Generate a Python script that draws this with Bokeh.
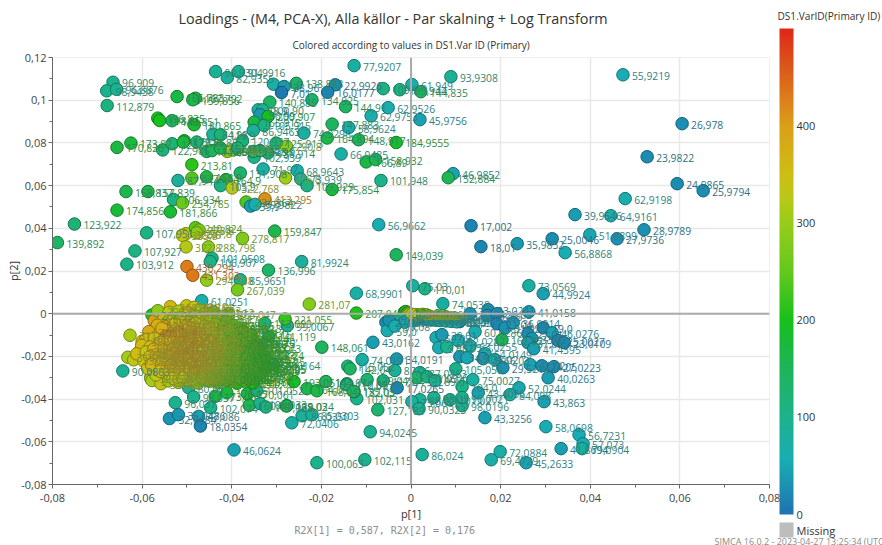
from bokeh.plotting import figure
from bokeh.models import (ColumnDataSource, LinearColorMapper, ColorBar, FixedTicker, Span, Title)
from bokeh.transform import transform
from bokeh.core.properties import value
from bokeh.embed import file_html
from bokeh.resources import INLINE

top_left = [
 ("90,9304",-.0436,.1134),("91,9916",-.0385,.1134),("82,9355",-.0410,.1106),("96,909",-.0665,.1084),
 ("98,9438",-.0679,.1044),("96,8876",-.0657,.1051),("112,879",-.0678,.0975),("166,783",-.0522,.1017),
 ("167,792",-.0481,.1009),("159,856",-.0487,.1002),("196,835",-.0565,.0916),("198,85",-.0561,.0905),
 ("143,851",-.0533,.0904),("180,865",-.0484,.0885),("170,826",-.0656,.0779),("173,82",-.0625,.0799),
 ("122,905",-.0554,.0767),("125,9",-.0533,.0796),("179,8",-.0506,.0810),("177,85",-.0508,.0804),
 ("114,85",-.0478,.0804),("213,81",-.0489,.0698),("87,944",-.0520,.0624),("237,944",-.0489,.0635),
 ("158,9",-.0456,.0641),("164,9",-.0413,.0628),("105,9",-.0425,.0600),("131,908",-.0381,.0659),
 ("322,768",-.0399,.0589),("158,837",-.0636,.0572),("157,839",-.0587,.0572),("106,934",-.0530,.0535),
 ("254,785",-.0510,.0519),("174,856",-.0656,.0485),("181,866",-.0537,.0477),("123,922",-.0751,.0420),
 ("139,892",-.0789,.0333),("107,951",-.0590,.0379),("107,927",-.0616,.0294),("103,912",-.0634,.0232),
]
top_mid = [
 ("71,97",-.0330,.0678),("306,8",-.0280,.0636),("68,9643",-.0254,.0670),("73,939",-.0246,.0631),
 ("109,929",-.0232,.0600),("175,854",-.0176,.0582),("413,295",-.0326,.0538),("234,864",-.0368,.0523),
 ("39,9",-.0358,.0504),("59,9822",-.0348,.0512),("320,8",-.0502,.0375),("335,8",-.0510,.0367),
 ("240,824",-.0481,.0403),("273,8",-.0473,.0392),("287,8",-.0478,.0379),("278,817",-.0376,.0353),
 ("159,847",-.0304,.0387),("322,8",-.0502,.0313),("288,798",-.0452,.0313),("101,9508",-.0444,.0260),
 ("106,907",-.0448,.0244),("81,9924",-.0244,.0244),("430,294",-.0500,.0221),("431,303",-.0487,.0180),
 ("136,996",-.0318,.0204),("294,788",-.0456,.0157),("85,9651",-.0381,.0159),("267,039",-.0387,.0112),
 ("61,0251",-.0467,.0061),("281,07",-.0227,.0045),("68,9901",-.0122,.0096),("207,046",-.0122,.0003),
 ("56,9662",-.0072,.0417),("149,039",-.0033,.0276),("71,0",-.0307,.1075),("38,96",-.0283,.1064),
 ("7,01",-.0289,.1036),("138,883",-.0256,.1079),("22,9926",-.0169,.1072),("16,0177",-.0186,.1037),
 ("134,925",-.0221,.1002),("140,885",-.0315,.0991),("144,91",-.0146,.0970),("78,9",-.0341,.0955),
 ("100,90",-.0331,.0955),("36,99",-.0337,.0932),("200,907",-.0319,.0924),("165,915",-.0350,.0897),
 ("105,915",-.0328,.0882),("86,9463",-.0352,.0858),("74,9298",-.0239,.0846),("147,883",-.0176,.0888),
 ("58,9624",-.0139,.0872),("164,894",-.0187,.0823),("148,917",-.0117,.0815),("184,9555",-.0033,.0802),
 ("84,98",-.0442,.0841),("119,9",-.0425,.0838),("120,937",-.0376,.0810),("125,913",-.0301,.0799),
 ("290,8",-.0278,.0784),("136,914",-.0319,.0753),("102,939",-.0350,.0733),("298,8",-.0410,.0760),
 ("66,9485",-.0156,.0748),("166,89",-.0100,.0711),("158,932",-.0079,.0722),("101,948",-.0067,.0624),
 ("141,85",-.0456,.0760),("146,87",-.0444,.0764),("152,84",-.0425,.0776),("296,78",-.0399,.0767),
 ("118,92",-.0387,.0776),("124,91",-.0352,.0760),("128,9",-.0337,.0764),
]
top_right = [
 ("55,9219",.0473,.1119),("26,978",.0605,.0890),("23,9822",.0527,.0735),("24,9865",.0594,.0609),
 ("25,9794",.0652,.0576),("62,9198",.0478,.0539),("39,9546",.0366,.0464),("64,9161",.0446,.0459),
 ("28,9789",.0520,.0393),("51,8899",.0399,.0370),("25,0046",.0315,.0351),("27,9736",.0460,.0351),
 ("56,8868",.0344,.0286),("35,9832",.0237,.0328),("18,01",.0156,.0314),("17,002",.0134,.0412),
 ("93,9308",.0089,.1110),("77,9207",-.0127,.1162),("61,949",.0002,.1073),("144,835",.0022,.1040),
 ("109,9",-.0062,.1054),("109,944",-.0025,.1049),("62,9526",-.0051,.0965),("62,9753",-.0089,.0927),
 ("45,9756",.0020,.0909),("46,9852",.0094,.0656),("152,884",.0083,.0637),
]
low_right = [
 ("74,0538",.0071,.0047),("73,0569",.0263,.0131),("44,9924",.0295,.0094),("41,0158",.0263,.0009),
 ("23,0241",.0172,.0019),("110,01",.0031,.0117),("75,03",.0004,.0131),("30,04",.0132,.0),
 ("28,05",.0170,-.0009),("26,03",.0192,.0),("22,06",.0109,-.0037),("21,04",.0192,-.0047),
 ("31,02",.0210,-.0066),("36,0914",.0228,-.0042),("19,0",.0295,-.0066),("46,0276",.0315,-.0089),
 ("27,01",.0261,-.0094),("33,02",.0270,-.0117),("25,0027",.0328,-.0126),("37,05",.0261,-.0136),
 ("41,4395",.0274,-.0164),("23,0109",.0342,-.0136),("59,03",.0056,-.0112),("57,02",.0062,-.0159),
 ("95,05",.0080,-.0155),("39,01",.0069,-.0098),("60,0286",.0143,-.0084),("162,02",.0203,-.0122),
 ("62,0287",.0105,-.0126),("63,0255",.0132,-.0150),("54,0149",.0165,-.0187),("34,9",.0109,-.0201),
 ("49,04",.0125,-.0206),("38,02",.0161,-.0211),("66,03",.0187,-.0215),("29,5214",.0205,-.0253),
 ("47,02",.0266,-.0239),("24,05",.0292,-.0244),("27,0223",.0319,-.0248),("40,0263",.0306,-.0300),
 ("105,058",.0100,-.0258),("87,0363",.0020,-.0276),("131,03",.0013,-.0300),("112,06",.0036,-.0295),
 ("89,0",.0054,-.0314),("104,0",.0114,-.0342),("75,0027",.0138,-.0309),("43,4096",.0150,-.0370),
 ("52,0244",.0241,-.0347),("84,008",.0221,-.0379),("43,863",.0297,-.0412),("43,3256",.0165,-.0487),
 ("58,0698",.0301,-.0529),("56,7231",.0375,-.0567),("57,073",.0384,-.0609),("79,0904",.0382,-.0632),
 ("41,8694",.0335,-.0632),("72,0884",.0199,-.0646),("69,4729",.0179,-.0684),("45,2633",.0257,-.0698),
 ("86,024",.0025,-.0660),("98,05",.0051,-.0393),("88,02",.0020,-.0403),("75,06",.0002,-.0412),
 ("90,0323",.0018,-.0445),("98,0196",.0114,-.0431),("101,02",.0087,-.0403),("96,0021",.0114,-.0393),
]
low_mid = [
 ("94,0245",-.0091,-.0553),("100,063",-.0210,-.0698),("102,115",-.0103,-.0684),("127,189",-.0074,-.0450),
 ("72,0406",-.0266,-.0511),("86,0350",-.0243,-.0478),("85,0303",-.0221,-.0473),("102,031",-.0121,-.0398),
 ("193,0514",-.0261,-.0318),("164,06",-.0232,-.0351),("168,04",-.0210,-.0361),("144,07",-.0190,-.0318),
 ("112,05",-.0143,-.0328),("182,03",-.0127,-.0365),("129,045",-.0098,-.0309),("117,04",-.0062,-.0314),
 ("17,0265",-.0031,-.0347),("139,024",-.0277,-.0431),("74,0191",-.0109,-.0215),("115,052",-.0141,-.0246),
 ("142,04",-.0136,-.0258),("110,07",-.0144,-.0333),("135,05",-.0128,-.0364),("43,0162",-.0085,-.0134),
 ("27,04",-.0056,-.0040),("59,0",-.0053,-.0079),("34,0191",-.0032,-.0212),("87,06",-.0036,-.0266),
 ("148,061",-.0199,-.0157),("113,099",-.0326,-.0045),("99,0067",-.0276,-.0056),("221,055",-.0281,-.0025),
 ("141,119",-.0317,-.0106),("97,0164",-.0307,-.0238),("158,0295",-.0352,-.0258),("68,0275",-.0363,-.0137),
 ("265,047",-.0407,.0),("90,0863",-.0643,-.0268),("80,06",-.0496,-.0347),("98,037",-.0485,-.0390),
 ("96,037",-.0526,-.0417),("32,0484",-.0539,-.0491),("35,0486",-.0519,-.0473),("47,086",-.0474,-.0481),
 ("18,0354",-.0470,-.0526),("102,074",-.0447,-.0440),("173,06",-.0437,-.0387),("178,05",-.0411,-.0370),
 ("46,0624",-.0395,-.0638),("170,061",-.0365,-.0375),("101,052",-.0344,-.0359),("160,04",-.0361,-.0429),
 ("100,033",-.0337,-.0421),("107,038",-.0324,-.0437),("165,03",-.0278,-.0432),
]
blob_edge = [
 ("200,99",-.0578,-.0006),("400,12",-.0573,-.0033),("290,11",-.0565,.0014),("360,09",-.0537,.0033),
 ("340,10",-.0501,.0037),("338,08",-.0484,.0030),("440,28",-.0567,-.0072),("465,284",-.0581,-.0087),
 ("311,17",-.0627,-.0101),("350,15",-.0600,-.0129),("310,19",-.0632,-.0204),("330,18",-.0619,-.0216),
 ("345,20",-.0607,-.0180),("355,16",-.0589,-.0173),("320,21",-.0581,-.0302),("310,23",-.0578,-.0313),
 ("340,22",-.0558,-.0328),
]
blob_band_1 = [
 ("330,14",-.0540,.0006),("318,09",-.0519,.0012),("344,11",-.0497,.0004),("296,13",-.0471,.0016),("276,10",-.0458,.0003),
 ("251,12",-.0441,.0009),("368,21",-.0552,-.0024),("352,19",-.0533,-.0031),("338,23",-.0512,-.0019),("327,16",-.0489,-.0028),
 ("306,18",-.0468,-.0022),("285,14",-.0450,-.0034),("263,17",-.0431,-.0027),("236,15",-.0412,-.0038),("372,31",-.0566,-.0054),
 ("359,26",-.0548,-.0061),("341,24",-.0527,-.0049),("333,22",-.0503,-.0057),("315,19",-.0481,-.0046),("298,27",-.0459,-.0059),
 ("279,21",-.0437,-.0051),("256,18",-.0418,-.0063),("228,16",-.0396,-.0055),("212,13",-.0381,-.0068),
]
blob_band_2 = [
 ("383,41",-.0585,-.0084),("364,33",-.0561,-.0092),("347,35",-.0544,-.0079),("336,30",-.0521,-.0088),("322,29",-.0499,-.0076),
 ("309,25",-.0477,-.0091),("291,32",-.0455,-.0082),("274,23",-.0433,-.0094),("249,28",-.0414,-.0081),("221,19",-.0392,-.0090),
 ("203,17",-.0373,-.0084),("208,15",-.0357,-.0096),("369,44",-.0592,-.0121),("358,38",-.0573,-.0115),("343,36",-.0551,-.0127),
 ("331,40",-.0530,-.0113),("319,34",-.0508,-.0124),("302,37",-.0486,-.0111),("288,31",-.0464,-.0122),("267,35",-.0442,-.0116),
 ("243,29",-.0421,-.0128),("226,26",-.0400,-.0113),("207,22",-.0382,-.0125),("216,24",-.0364,-.0118),("206,20",-.0350,-.0130),
]
blob_band_3 = [
 ("356,48",-.0601,-.0148),("348,42",-.0582,-.0156),("337,45",-.0562,-.0143),("328,39",-.0541,-.0152),("316,43",-.0519,-.0141),
 ("304,41",-.0497,-.0154),("293,38",-.0475,-.0145),("271,33",-.0453,-.0157),("258,36",-.0431,-.0147),("233,30",-.0410,-.0158),
 ("215,28",-.0389,-.0144),("219,25",-.0370,-.0155),("213,27",-.0352,-.0149),("203,23",-.0337,-.0160),("151,096",-.0514,-.0185),
 ("352,52",-.0612,-.0188),("341,47",-.0591,-.0179),("334,50",-.0570,-.0191),("323,44",-.0548,-.0182),("311,46",-.0527,-.0176),
 ("299,42",-.0492,-.0190),("283,39",-.0470,-.0178),("262,37",-.0448,-.0189),("240,33",-.0426,-.0181),("224,31",-.0405,-.0192),
 ("208,29",-.0384,-.0179),("219,26",-.0365,-.0190),("209,28",-.0346,-.0183),("198,24",-.0330,-.0194),
]
blob_band_4 = [
 ("345,54",-.0596,-.0222),("336,49",-.0575,-.0214),("325,51",-.0553,-.0226),("312,47",-.0532,-.0217),("300,53",-.0510,-.0228),
 ("289,45",-.0488,-.0213),("272,43",-.0466,-.0225),("254,41",-.0444,-.0216),("235,38",-.0422,-.0227),("218,35",-.0401,-.0215),
 ("201,32",-.0380,-.0226),("217,30",-.0361,-.0218),("204,28",-.0343,-.0229),("194,25",-.0328,-.0220),("339,56",-.0588,-.0256),
 ("329,52",-.0566,-.0248),("317,55",-.0544,-.0259),("305,48",-.0522,-.0250),("294,51",-.0500,-.0261),("281,46",-.0478,-.0247),
 ("264,44",-.0456,-.0258),("246,42",-.0434,-.0249),("229,39",-.0412,-.0260),("211,36",-.0391,-.0251),("215,33",-.0372,-.0262),
 ("212,31",-.0354,-.0253),("199,08",-.0339,-.0264),("192,05",-.0325,-.0255),
]
blob_band_5 = [
 ("326,57",-.0569,-.0287),("313,53",-.0547,-.0279),("301,56",-.0525,-.0291),("290,49",-.0503,-.0282),("277,54",-.0481,-.0294),
 ("259,47",-.0459,-.0280),("241,45",-.0437,-.0292),("223,43",-.0415,-.0283),("205,40",-.0394,-.0295),("220,37",-.0375,-.0284),
 ("207,34",-.0357,-.0296),("195,07",-.0340,-.0286),("308,58",-.0541,-.0315),("295,55",-.0519,-.0322),("282,52",-.0497,-.0312),
 ("268,50",-.0475,-.0325),("250,48",-.0453,-.0314),("232,46",-.0431,-.0324),("214,44",-.0409,-.0313),("198,41",-.0388,-.0326),
 ("214,38",-.0369,-.0316),("200,06",-.0352,-.0325),
]
blob_core = [
 ("374,61",-.0556,-.0068),("382,62",-.0538,-.0104),("398,63",-.0516,-.0097),("366,64",-.0494,-.0064),("351,65",-.0472,-.0106),
 ("305,66",-.0449,-.0071),("268,67",-.0427,-.0101),("219,68",-.0406,-.0074),("372,69",-.0559,-.0135),("387,71",-.0537,-.0128),
 ("403,72",-.0515,-.0137),("378,73",-.0493,-.0131),("343,74",-.0471,-.0139),("307,75",-.0449,-.0133),("269,76",-.0428,-.0140),
 ("222,77",-.0407,-.0134),("204,78",-.0387,-.0138),("214,79",-.0368,-.0136),("369,81",-.0574,-.0166),("384,82",-.0552,-.0169),
 ("401,83",-.0530,-.0163),("377,84",-.0508,-.0171),("354,85",-.0486,-.0165),("330,86",-.0464,-.0170),("284,87",-.0442,-.0164),
 ("257,88",-.0420,-.0172),("209,89",-.0398,-.0166),("218,91",-.0378,-.0170),("210,92",-.0359,-.0167),("356,93",-.0583,-.0202),
 ("381,94",-.0561,-.0207),("398,95",-.0539,-.0200),("384,96",-.0517,-.0206),("360,97",-.0495,-.0201),("336,98",-.0473,-.0208),
 ("290,99",-.0451,-.0199),("263,11",-.0429,-.0205),("225,12",-.0407,-.0200),("222,13",-.0387,-.0207),("202,14",-.0368,-.0201),
 ("196,15",-.0349,-.0206),("362,16",-.0579,-.0239),("377,17",-.0557,-.0235),("394,18",-.0535,-.0242),("380,19",-.0513,-.0236),
 ("356,21",-.0491,-.0241),("322,22",-.0469,-.0234),("276,23",-.0447,-.0240),("249,24",-.0425,-.0237),("211,25",-.0403,-.0243),
 ("218,26",-.0383,-.0236),("205,27",-.0364,-.0241),("193,28",-.0346,-.0238),("355,29",-.0560,-.0270),("371,31",-.0538,-.0267),
 ("367,32",-.0516,-.0273),("343,33",-.0494,-.0266),("309,34",-.0472,-.0272),("273,35",-.0450,-.0268),("236,36",-.0428,-.0274),
 ("208,37",-.0406,-.0267),("224,38",-.0386,-.0272),("208,39",-.0367,-.0269),("198,41",-.0349,-.0274),("337,42",-.0531,-.0303),
 ("323,43",-.0509,-.0300),("299,44",-.0487,-.0306),("274,45",-.0465,-.0301),("247,46",-.0443,-.0305),("219,47",-.0421,-.0302),
 ("201,48",-.0401,-.0306),("213,49",-.0381,-.0301),("201,51",-.0362,-.0305),
]
center_mass = [
 ("181,07",-.0015,.0006),("193,08",-.0012,.0010),("176,05",-.0008,.0003),("205,03",-.0010,-.0003),("312,06",-.0006,.0001),
 ("385,11",-.0005,-.0002),("296,067",-.0003,-.0001),("58,02",.0002,-.0009),("67,04",.0005,-.0020),("72,03",-.0022,-.0028),
 ("81,05",.0012,-.0012),("64,02",.0018,-.0024),("77,06",.0024,-.0014),("69,03",.0030,-.0026),("83,04",.0036,-.0016),
 ("61,05",.0042,-.0028),("76,02",.0048,-.0018),("88,07",.0054,-.0030),("70,03",.0060,-.0020),("65,05",.0066,-.0032),
 ("55,04",.0072,-.0022),("79,02",.0078,-.0034),("68,06",.0084,-.0024),("60,03",.0090,-.0036),("64,02",.0096,-.0026),
 ("52,05",.0102,-.0038),("74,06",.0008,-.0032),("66,02",-.0014,-.0040),("29,04",-.0049,-.0030),("59,08",-.0036,-.0058),
 ("301,05",.0002,-.0003),("344,08",.0010,-.0004),("325,02",.0018,-.0005),("290,09",.0026,-.0003),("280,04",.0034,-.0005),
]

regions = [top_left, top_mid, top_right, low_right, low_mid, center_mass, blob_edge,
           blob_band_1, blob_band_2, blob_band_3, blob_band_4, blob_band_5, blob_core]

x_ticks = [-.08, -.06, -.04, -.02, 0, .02, .04, .06, .08]
x_tick_labels = ["-0,08", "-0,06", "-0,04", "-0,02", "0", "0,02", "0,04", "0,06", "0,08"]
y_ticks = [-.08, -.06, -.04, -.02, 0, .02, .04, .06, .08, .1, .12]
y_tick_labels = ["-0,08", "-0,06", "-0,04", "-0,02", "0", "0,02", "0,04", "0,06", "0,08", "0,1", "0,12"]
x_minor = [-.07, -.05, -.03, -.01, .01, .03, .05, .07]
y_minor = [-.07, -.05, -.03, -.01, .01, .03, .05, .07, .09, .11]
bar_ticks = [0, 100, 200, 300, 400]
bar_top = 501

stops = [(0, (30, 116, 176)), (55, (25, 172, 178)), (100, (28, 178, 140)), (150, (30, 180, 90)),
         (200, (22, 192, 28)), (250, (100, 200, 28)), (300, (150, 204, 26)), (325, (185, 200, 22)),
         (350, (205, 190, 20)), (400, (218, 160, 24)), (430, (220, 125, 26)), (465, (218, 85, 26)),
         (501, (224, 40, 26))]

def ramp(pos):
    for (a, ca), (b, cb) in zip(stops, stops[1:]):
        if pos <= b:
            t = (pos - a) / (b - a)
            return tuple(ca[i] + (cb[i] - ca[i]) * t for i in range(3))
    return stops[-1][1]

def hexc(c, k=1.0, mix=0.0):
    c = [v * k * (1 - mix) + 120 * mix for v in c]
    return "#%02x%02x%02x" % tuple(int(round(v)) for v in c)

levels = [ramp(i * bar_top / 255) for i in range(256)]
fill_map = LinearColorMapper(palette=[hexc(c) for c in levels], low=0, high=bar_top)
line_map = LinearColorMapper(palette=[hexc(c, .66) for c in levels], low=0, high=bar_top)
text_map = LinearColorMapper(palette=[hexc(c, .78, .25) for c in levels], low=0, high=bar_top)

labels, p1, p2 = [], [], []
for region in regions:
    for name, a, b in region:
        labels.append(name); p1.append(a); p2.append(b)
var_id = [float(s.replace(",", ".")) for s in labels]
src = ColumnDataSource(dict(p1=p1, p2=p2, name=labels, val=var_id))

W, H = 882, 545
p = figure(width=W, height=H, output_backend="svg", toolbar_location=None,
           x_range=(-.08, .08), y_range=(-.08, .12),
           frame_width=717, frame_height=427, min_border_left=52, min_border_top=57,
           min_border_right=113, min_border_bottom=61, background_fill_color="white")
p.styles = {"margin-right": "-8px", "margin-bottom": "-8px"}
p.outline_line_color = "#EFEFEF"
p.outline_line_width = 1

for ax, ticks, names, minors in ((p.xaxis[0], x_ticks, x_tick_labels, x_minor),
                                 (p.yaxis[0], y_ticks, y_tick_labels, y_minor)):
    ax.ticker = FixedTicker(ticks=ticks, minor_ticks=minors)
    ax.major_label_overrides = dict(zip(ticks, names))
    ax.major_label_text_font = "Open Sans"
    ax.major_label_text_font_size = "11px"
    ax.major_label_text_color = "#444444"
    ax.axis_line_color = "#666666"
    ax.major_tick_line_color = "#666666"
    ax.minor_tick_line_color = "#666666"
    ax.major_tick_out = 4
    ax.major_tick_in = 0
    ax.minor_tick_out = 3
    ax.minor_tick_in = 0
    ax.axis_label_text_font = "Open Sans"
    ax.axis_label_text_font_size = "11px"
    ax.axis_label_text_font_style = "normal"
    ax.axis_label_text_color = "#333333"
p.xaxis[0].axis_label = "p[1]"
p.yaxis[0].axis_label = "p[2]"
p.xaxis[0].axis_label_standoff = 1
p.yaxis[0].axis_label_standoff = -3
p.yaxis[0].major_label_standoff = 2
p.xaxis[0].major_label_standoff = 5

p.grid.grid_line_color = "#E8E8E8"
p.grid.grid_line_width = 1.5
p.add_layout(Span(location=0, dimension="width", line_color="#ABABAB", line_width=2))
p.add_layout(Span(location=0, dimension="height", line_color="#ABABAB", line_width=2))

p.scatter("p1", "p2", source=src, size=12.5, fill_color=transform("val", fill_map),
          line_color=transform("val", line_map), line_width=1)
p.text("p1", "p2", text="name", source=src, x_offset=9, y_offset=1,
       text_font=value("Open Sans"), text_font_size="10.3px", text_baseline="middle",
       text_color=transform("val", text_map))

bar = ColorBar(color_mapper=fill_map, ticker=FixedTicker(ticks=bar_ticks),
               width=14, height=486, location=(10, -30), padding=0, margin=0,
               major_tick_line_color=None, bar_line_color=None,
               major_label_text_font="Open Sans", major_label_text_font_size="11px",
               major_label_text_color="#333333", label_standoff=3, background_fill_color=None,
               border_line_color=None)
p.add_layout(bar, "right")

def side_label(text, size, x, y, height, palette="#BDBDBD", width=14, standoff=3):
    mapper = LinearColorMapper(palette=[palette], low=0, high=1)
    side = ColorBar(color_mapper=mapper, ticker=FixedTicker(ticks=[.5]), major_label_overrides={.5: text},
                    width=width, height=height, location=(x, y), padding=0, margin=0,
                    major_tick_line_color=None, bar_line_color=None, major_label_text_font="Open Sans",
                    major_label_text_font_size=size, major_label_text_color="#333333",
                    label_standoff=standoff, background_fill_color=None, border_line_color=None)
    p.add_layout(side, "right")

side_label("Missing", "11px", -39, -53, 15)
side_label("DS1.VarID(Primary ID)", "10.1px", -64, 461, 15, palette="#FFFFFF", width=1, standoff=2)

def heading(text, side, size, offset, color="#333333", font="Open Sans", standoff=0):
    t = Title(text=text, align="left", offset=offset, text_font=font, text_font_size=size,
              text_font_style="normal", text_color=color, standoff=standoff)
    p.add_layout(t, side)

heading("Colored according to values in DS1.Var ID (Primary)", "above", "10px", 240, standoff=12)
heading("Loadings - (M4, PCA-X), Alla källor - Par skalning + Log Transform", "above", "14.4px", 126, standoff=4)
heading("R2X[1] = 0,587, R2X[2] = 0,176", "below", "10px", 242, "#8E8E8E", "DejaVu Sans Mono", standoff=-2)
heading("SIMCA 16.0.2 - 2023-04-27 13:25:34 (UTC+", "below", "9px", 662, "#8A8A8A", standoff=-4)

open("out.html", "w").write(file_html(p, INLINE))
